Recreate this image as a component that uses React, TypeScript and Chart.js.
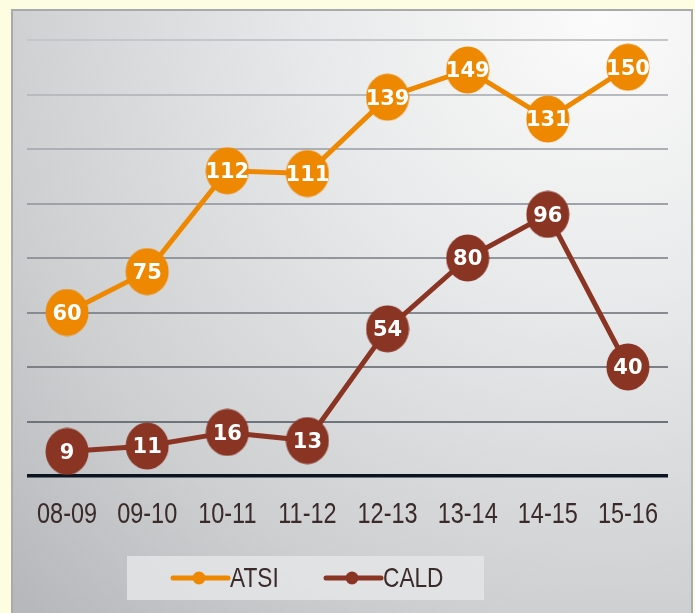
import React, { useEffect, useRef } from "react";
import { Chart, registerables } from "chart.js";

Chart.register(...registerables);

const categories = ["08-09", "09-10", "10-11", "11-12", "12-13", "13-14", "14-15", "15-16"];
const atsiValues = [60, 75, 112, 111, 139, 149, 131, 150];
const caldValues = [9, 11, 16, 13, 54, 80, 96, 40];
const seriesNames = ["ATSI", "CALD"];
const seriesColors = ["#ee8800", "#8a3524"];

const SANS = "'Liberation Sans', Arial, sans-serif";
const NARROW_SCALE = 0.81;

function ellipseMarker(color: string) {
  const c = document.createElement("canvas");
  c.width = 44;
  c.height = 48;
  const g = c.getContext("2d")!;
  g.fillStyle = color;
  g.beginPath();
  g.ellipse(22, 24, 21.5, 23.5, 0, 0, Math.PI * 2);
  g.fill();
  return c;
}

function narrowText(ctx: any, text: string, x: number, y: number, align: "center" | "left", size: number) {
  ctx.save();
  ctx.translate(x, y);
  ctx.scale(NARROW_SCALE, 1);
  ctx.font = `${size}px ${SANS}`;
  ctx.textAlign = align;
  ctx.textBaseline = "middle";
  ctx.fillText(text, 0, 0);
  ctx.restore();
}

function gridColor(v: number) {
  if (v === 0) return "#0b1420";
  // lighter near the top, darker near the bottom
  const t = v / 160;
  const dark = [98, 104, 112];
  const light = [196, 198, 201];
  const c = dark.map((d, i) => Math.round(d + (light[i] - d) * t));
  return `rgb(${c[0]},${c[1]},${c[2]})`;
}

const backgroundPlugin = {
  id: "panelBg",
  beforeDraw(chart: any) {
    const ctx = chart.ctx;
    const W = chart.width;
    const H = chart.height;
    ctx.save();
    ctx.fillStyle = "#fdfde2";
    ctx.fillRect(0, 0, W, H);
    const x0 = 12, y0 = 10, x1 = 692, y1 = H + 5;
    const grad = ctx.createRadialGradient(600, 20, 0, 600, 20, 820);
    grad.addColorStop(0, "#fbfbfb");
    grad.addColorStop(0.35, "#e8e9ea");
    grad.addColorStop(0.75, "#cdced0");
    grad.addColorStop(1, "#b6b8bb");
    ctx.fillStyle = grad;
    ctx.fillRect(x0, y0, x1 - x0, y1 - y0);
    ctx.strokeStyle = "#a8aaad";
    ctx.lineWidth = 2;
    ctx.strokeRect(x0, y0, x1 - x0, y1 - y0);
    ctx.restore();
  },
};

const xLabelPlugin = {
  id: "xLabels",
  afterDraw(chart: any) {
    const ctx = chart.ctx;
    const xs = chart.scales.x;
    ctx.save();
    ctx.fillStyle = "#3b2a2a";
    (chart.data.labels as string[]).forEach((lab, i) => {
      narrowText(ctx, lab, xs.getPixelForValue(i), 515, "center", 29);
    });
    ctx.restore();
  },
};

const legendPlugin = {
  id: "customLegend",
  afterDraw(chart: any) {
    const ctx = chart.ctx;
    ctx.save();
    ctx.fillStyle = "rgba(228,229,230,0.85)";
    ctx.fillRect(127, 556, 357, 44);
    const items = [
      { x: 173, textX: 230 },
      { x: 326, textX: 383 },
    ];
    chart.data.datasets.forEach((ds: any, i: number) => {
      const it = items[i];
      const y = 578;
      ctx.strokeStyle = ds.borderColor;
      ctx.lineWidth = 5;
      ctx.lineCap = "round";
      ctx.beginPath();
      ctx.moveTo(it.x, y);
      ctx.lineTo(it.x + 55, y);
      ctx.stroke();
      ctx.fillStyle = ds.borderColor;
      ctx.beginPath();
      ctx.arc(it.x + 26, y, 6.5, 0, Math.PI * 2);
      ctx.fill();
      ctx.fillStyle = "#3b2a2a";
      narrowText(ctx, ds.label, it.textX, y + 1, "left", 28);
    });
    ctx.restore();
  },
};

const valueLabelPlugin = {
  id: "valueLabels",
  afterDatasetsDraw(chart: any) {
    const ctx = chart.ctx;
    ctx.save();
    ctx.fillStyle = "#ffffff";
    ctx.font = "bold 21px 'DejaVu Sans', Verdana, sans-serif";
    ctx.textAlign = "center";
    ctx.textBaseline = "middle";
    chart.data.datasets.forEach((ds: any, i: number) => {
      const meta = chart.getDatasetMeta(i);
      meta.data.forEach((pt: any, j: number) => {
        ctx.fillText(String(ds.data[j]), pt.x, pt.y + 2);
      });
    });
    ctx.restore();
  },
};

export default function App() {
  const ref = useRef<HTMLCanvasElement | null>(null);

  useEffect(() => {
    document.body.style.margin = "0";
    const canvas = ref.current!;
    const markers = seriesColors.map((c) => ellipseMarker(c));
    const chart = new Chart(canvas, {
      type: "line",
      data: {
        labels: categories,
        datasets: [atsiValues, caldValues].map((vals, i) => ({
          label: seriesNames[i],
          data: vals,
          borderColor: seriesColors[i],
          backgroundColor: seriesColors[i],
          borderWidth: 5,
          pointStyle: markers[i] as any,
          pointRadius: 22,
          pointHoverRadius: 22,
          tension: 0,
        })),
      },
      options: {
        animation: false,
        responsive: false,
        devicePixelRatio: 1,
        events: [],
        layout: { padding: { left: 25, right: 15, top: 40, bottom: 0 } },
        plugins: { legend: { display: false }, tooltip: { enabled: false } },
        scales: {
          x: {
            offset: true,
            grid: { display: false, drawTicks: false },
            border: { display: false },
            ticks: { display: false },
            afterFit: (s: any) => {
              s.height = 137;
            },
          },
          y: {
            min: 0,
            max: 160,
            ticks: { display: false, stepSize: 20 },
            border: { display: false },
            grid: {
              drawTicks: false,
              color: (c: any) => gridColor(c.tick ? c.tick.value : 0),
              lineWidth: (c: any) => (c.tick && c.tick.value === 0 ? 3.5 : 2),
            },
            afterFit: (s: any) => {
              s.width = 0;
            },
          },
        },
      },
      plugins: [backgroundPlugin, valueLabelPlugin, xLabelPlugin, legendPlugin],
    });
    return () => chart.destroy();
  }, []);

  return (
    <div style={{ width: 695, height: 613 }}>
      <canvas ref={ref} width={695} height={613} style={{ display: "block" }} />
    </div>
  );
}
